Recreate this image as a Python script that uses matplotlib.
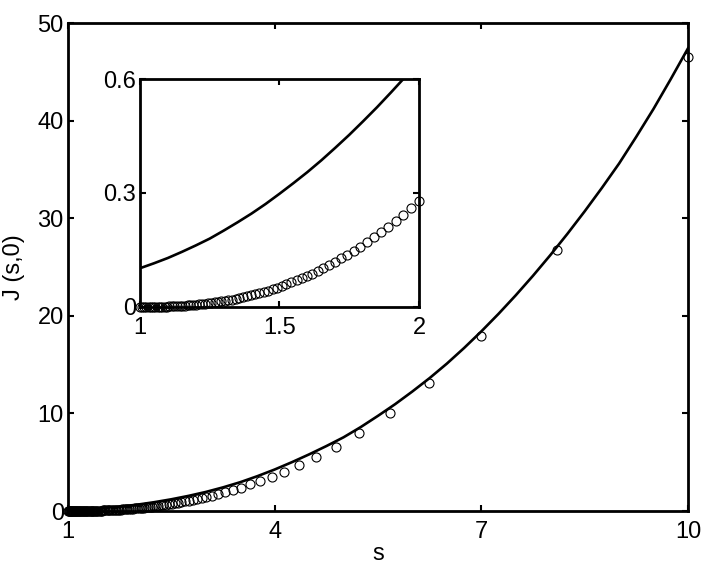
import matplotlib
matplotlib.use('Agg')
from matplotlib import pyplot as plt

plt.rcParams['font.family'] = ['Liberation Sans', 'DejaVu Sans']

# ---- main curve (solid line) ----
s_line = [1.0, 1.25, 1.5, 1.75, 2.0, 2.25, 2.5, 2.75, 3.0, 3.25, 3.5, 3.75,
          4.0, 4.25, 4.5, 4.75, 5.0, 5.25, 5.5, 5.75, 6.0, 6.25, 6.5, 6.75,
          7.0, 7.25, 7.5, 7.75, 8.0, 8.25, 8.5, 8.75, 9.0, 9.25, 9.5, 9.75, 10.0]
J_line = [0.105, 0.19, 0.30, 0.45, 0.645, 0.90, 1.2, 1.55, 1.95, 2.42, 2.95, 3.57,
          4.25, 5.0, 5.8, 6.65, 7.55, 8.6, 9.75, 10.95, 12.25, 13.62, 15.1, 16.7,
          18.4, 20.2, 22.1, 24.1, 26.2, 28.4, 30.7, 33.1, 35.6, 38.35, 41.2, 44.25, 47.4]

# ---- inset curve (solid line, s in [1, 2]) ----
s_line_in = [1.00, 1.05, 1.10, 1.15, 1.20, 1.25, 1.30, 1.35, 1.40, 1.45, 1.50,
             1.55, 1.60, 1.65, 1.70, 1.75, 1.80, 1.85, 1.90, 1.95, 2.00]
J_line_in = [0.102, 0.115, 0.129, 0.145, 0.162, 0.180, 0.201, 0.223, 0.246, 0.271, 0.298,
             0.326, 0.355, 0.386, 0.419, 0.453, 0.489, 0.526, 0.565, 0.605, 0.647]

# ---- circles, s in [1, 2] (shown in inset and main) ----
s_dots_in = [1.000, 1.008, 1.015, 1.023, 1.031, 1.039, 1.047, 1.055, 1.063, 1.071,
             1.079, 1.088, 1.096, 1.105, 1.114, 1.123, 1.132, 1.142, 1.151, 1.161,
             1.171, 1.181, 1.191, 1.201, 1.212, 1.223, 1.234, 1.245, 1.256, 1.268,
             1.280, 1.292, 1.304, 1.317, 1.330, 1.343, 1.356, 1.370, 1.384, 1.398,
             1.413, 1.428, 1.443, 1.459, 1.475, 1.491, 1.508, 1.525, 1.543, 1.561,
             1.579, 1.598, 1.617, 1.637, 1.657, 1.678, 1.699, 1.721, 1.743, 1.766,
             1.789, 1.813, 1.838, 1.863, 1.889, 1.916, 1.943, 1.971, 2.000]
J_dots_in = [0.0, 0.0, 0.0, 0.0, 0.0001, 0.0001, 0.0002, 0.0003, 0.0004, 0.0005,
             0.0007, 0.0008, 0.0010, 0.0013, 0.0015, 0.0018, 0.0022, 0.0026, 0.0030, 0.0035,
             0.0040, 0.0046, 0.0053, 0.0060, 0.0068, 0.0076, 0.0086, 0.0096, 0.0106, 0.0119,
             0.0132, 0.0146, 0.0161, 0.0178, 0.0196, 0.0215, 0.0235, 0.0258, 0.0282, 0.0307,
             0.0335, 0.0365, 0.0397, 0.0432, 0.0469, 0.0508, 0.0551, 0.0596, 0.0647, 0.0699,
             0.0754, 0.0815, 0.088, 0.095, 0.102, 0.110, 0.119, 0.128, 0.137, 0.148,
             0.159, 0.170, 0.183, 0.197, 0.211, 0.227, 0.243, 0.261, 0.280]

# ---- circles, s > 2 (main plot only) ----
s_dots_hi = [2.032, 2.056, 2.080, 2.105, 2.131, 2.159, 2.187, 2.216, 2.247, 2.279,
             2.312, 2.347, 2.383, 2.421, 2.461, 2.503, 2.547, 2.594, 2.643, 2.696,
             2.751, 2.81, 2.87, 2.94, 3.01, 3.09, 3.18, 3.28, 3.39, 3.51,
             3.64, 3.79, 3.96, 4.14, 4.35, 4.60, 4.89, 5.22, 5.67, 6.24,
             7.0, 8.1, 10.0]
J_dots_hi = [0.302, 0.319, 0.337, 0.356, 0.376, 0.399, 0.423, 0.448, 0.476, 0.505,
             0.537, 0.572, 0.610, 0.651, 0.696, 0.745, 0.798, 0.857, 0.922, 0.985,
             1.05, 1.12, 1.2, 1.33, 1.43, 1.57, 1.74, 1.95, 2.15, 2.4,
             2.73, 3.07, 3.45, 4.0, 4.7, 5.5, 6.6, 8.0, 10.0, 13.1,
             17.9, 26.7, 46.5]

main_xticks = [1, 4, 7, 10]
main_yticks = [0, 10, 20, 30, 40, 50]
inset_xticks = [1, 1.5, 2]
inset_yticks = [0, 0.3, 0.6]
inset_xticklabels = ['1', '1.5', '2']
inset_yticklabels = ['0', '0.3', '0.6']

fs = 17
lw_axes = 2.0
lw_curve = 1.9
ms = 6.5
mew = 0.8


def style_axes(ax):
    for sp in ax.spines.values():
        sp.set_linewidth(lw_axes)
    ax.tick_params(direction='in', top=True, right=True, length=4, width=1.5,
                   labelsize=fs)
    ax.tick_params(axis='y', pad=3)
    ax.tick_params(axis='x', pad=7)


fig = plt.figure(figsize=(7.11, 5.75), dpi=100)

# Main axes
ax = fig.add_axes([0.0956, 0.1113, 0.872, 0.8487])
ax.plot(s_line, J_line, color='black', lw=lw_curve, zorder=3)
ax.plot(s_dots_in + s_dots_hi, J_dots_in + J_dots_hi, ls='none', marker='o',
        ms=ms, mfc='none', mec='black', mew=mew, clip_on=False, zorder=2)
ax.set_xlim(1, 10)
ax.set_ylim(0, 50)
ax.set_xticks(main_xticks)
ax.set_yticks(main_yticks)
style_axes(ax)
ax.set_xlabel('s', fontsize=fs, labelpad=0)
ax.set_ylabel('J (s,0)', fontsize=fs, labelpad=9)

# Inset axes
axi = fig.add_axes([0.1969, 0.4661, 0.3924, 0.3965])
axi.plot(s_line_in, J_line_in, color='black', lw=lw_curve, zorder=3)
axi.plot(s_dots_in, J_dots_in, ls='none', marker='o',
         ms=ms, mfc='none', mec='black', mew=mew, clip_on=False, zorder=2)
axi.set_xlim(1, 2)
axi.set_ylim(0, 0.6)
axi.set_xticks(inset_xticks)
axi.set_xticklabels(inset_xticklabels)
axi.set_yticks(inset_yticks)
axi.set_yticklabels(inset_yticklabels)
style_axes(axi)

plt.savefig('out.png', dpi=100)
